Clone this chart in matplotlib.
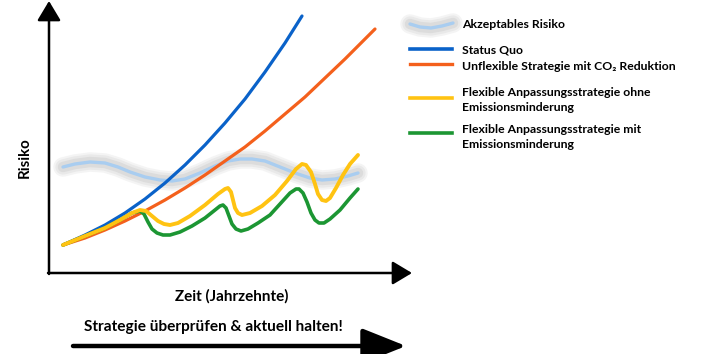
import matplotlib
matplotlib.use("Agg")
import matplotlib.pyplot as plt
import matplotlib.patheffects as pe

plt.rcParams['font.family'] = ['Lato', 'DejaVu Sans']

zeit_ok = [14, 26, 41, 56, 69, 81, 96, 111, 123, 136, 151, 166, 179, 191, 203, 216,
           231, 246, 261, 273, 286, 299, 309]
risiko_ok = [106, 109, 111, 110, 106, 101, 96, 93, 92, 94, 100, 107, 112, 114, 114, 112,
             106, 100, 95, 93, 94, 97, 100]

zeit_sq = [14, 36, 56, 76, 96, 116, 136, 156, 176, 196, 216, 236, 253]
risiko_sq = [28, 38, 48, 60, 74, 90, 108, 128, 150, 174, 201, 230, 257]

zeit_unflex = [14, 36, 56, 76, 96, 116, 136, 156, 176, 196, 216, 236, 256, 276, 296, 326]
risiko_unflex = [28, 35, 43, 52, 62, 73, 85, 98, 112, 126, 142, 159, 176, 195, 214, 244]

zeit_flex_ohne = [14, 36, 56, 71, 83, 91, 97, 103, 109, 115, 121, 129, 141, 156, 169, 176,
                  179, 182, 184, 186, 189, 193, 201, 213, 226, 238, 247, 253, 257, 262,
                  266, 269, 273, 277, 281, 287, 294, 301, 309]
risiko_flex_ohne = [28, 37, 45, 53, 60, 63, 62, 57, 52, 49, 48, 50, 57, 68, 79, 84,
                    85, 81, 73, 65, 60, 58, 60, 67, 78, 92, 104, 109, 108, 101,
                    89, 79, 73, 72, 75, 85, 98, 109, 118]

zeit_flex_mit = [14, 36, 56, 71, 83, 91, 95, 99, 103, 108, 114, 121, 131, 143, 156, 166,
                 171, 174, 177, 180, 183, 187, 192, 199, 209, 221, 231, 241, 247, 250,
                 254, 258, 262, 266, 270, 275, 281, 291, 301, 309]
risiko_flex_mit = [28, 37, 45, 53, 60, 62, 59, 51, 44, 40, 38, 38, 41, 47, 55, 63,
                   67, 68, 65, 57, 49, 44, 42, 44, 50, 58, 69, 80, 84, 84,
                   80, 71, 60, 53, 50, 50, 54, 63, 75, 84]

legend_labels = ["Akzeptables Risiko", "Status Quo", "Unflexible Strategie mit CO\u2082 Reduktion",
                 "Flexible Anpassungsstrategie ohne\nEmissionsminderung",
                 "Flexible Anpassungsstrategie mit\nEmissionsminderung"]

c_ok = '#a9cdf0'
c_sq = '#0a62c9'
c_unflex = '#f4601c'
c_ohne = '#ffc312'
c_mit = '#1c9633'

W, H = 707, 354
fig = plt.figure(figsize=(W / 100, H / 100), dpi=100)

# Hintergrund-Achse in Pixelkoordinaten fuer Legende, Texte, Pfeile
bg = fig.add_axes([0, 0, 1, 1])
bg.set_xlim(0, W)
bg.set_ylim(H, 0)
bg.axis('off')

# Diagrammbereich
ax = fig.add_axes([49 / W, (H - 273) / H, (412 - 49) / W, 273 / H])
ax.set_xlim(0, 363)
ax.set_ylim(0, 273)
ax.axis('off')

halo = [pe.Stroke(linewidth=14, foreground='#f4f4f4'),
        pe.Stroke(linewidth=11, foreground='#e9e9e9'),
        pe.Stroke(linewidth=7.5, foreground='#dcdcdc'),
        pe.Normal()]

ax.plot(zeit_ok, risiko_ok, color=c_ok, lw=2.4, solid_capstyle='round',
        solid_joinstyle='round', path_effects=halo)
ax.plot(zeit_sq, risiko_sq, color=c_sq, lw=2.3, solid_capstyle='round',
        solid_joinstyle='round')
ax.plot(zeit_unflex, risiko_unflex, color=c_unflex, lw=2.3, solid_capstyle='round',
        solid_joinstyle='round')
ax.plot(zeit_flex_mit, risiko_flex_mit, color=c_mit, lw=2.6,
        solid_capstyle='round', solid_joinstyle='round')
ax.plot(zeit_flex_ohne, risiko_flex_ohne, color=c_ohne, lw=2.8,
        solid_capstyle='round', solid_joinstyle='round')

# Achsenpfeile
arrow = dict(arrowstyle='-|>,head_length=1.0,head_width=0.6', color='black',
             lw=1.8, shrinkA=0, shrinkB=0, mutation_scale=12)
bg.annotate('', xy=(49, 1), xytext=(49, 274), arrowprops=arrow)
bg.annotate('', xy=(412, 273), xytext=(48, 273), arrowprops=arrow)
arrow2 = dict(arrowstyle='-|>,head_length=1.5,head_width=0.6', color='black',
              lw=3.2, shrinkA=0, shrinkB=0, mutation_scale=18)
bg.annotate('', xy=(406, 346), xytext=(73, 346), arrowprops=arrow2)

bg.text(25, 158, "Risiko", rotation=90, ha='center', va='center',
        fontsize=10.8, fontweight='bold')
bg.text(232, 296, "Zeit (Jahrzehnte)", ha='center', va='center',
        fontsize=11, fontweight='bold')
bg.text(213, 327, "Strategie überprüfen & aktuell halten!", ha='center', va='center',
        fontsize=11.1, fontweight='bold')

# Legende
bg.plot([410, 420, 431, 442, 453], [24, 27, 28, 26, 23], color=c_ok, lw=2.4,
        solid_capstyle='round', path_effects=halo)
key_x = [410, 452]
bg.plot(key_x, [49, 49], color=c_sq, lw=2.6)
bg.plot(key_x, [64, 64], color=c_unflex, lw=2.4)
bg.plot(key_x, [98, 98], color=c_ohne, lw=2.6)
bg.plot(key_x, [133, 133], color=c_mit, lw=2.6)

label_y = [25, 50, 67, 100, 137]
for lab, y in zip(legend_labels, label_y):
    bg.text(462, y, lab, ha='left', va='center', fontsize=8.8,
            fontweight='bold', linespacing=1.35)

fig.savefig('out.png', dpi=100)
